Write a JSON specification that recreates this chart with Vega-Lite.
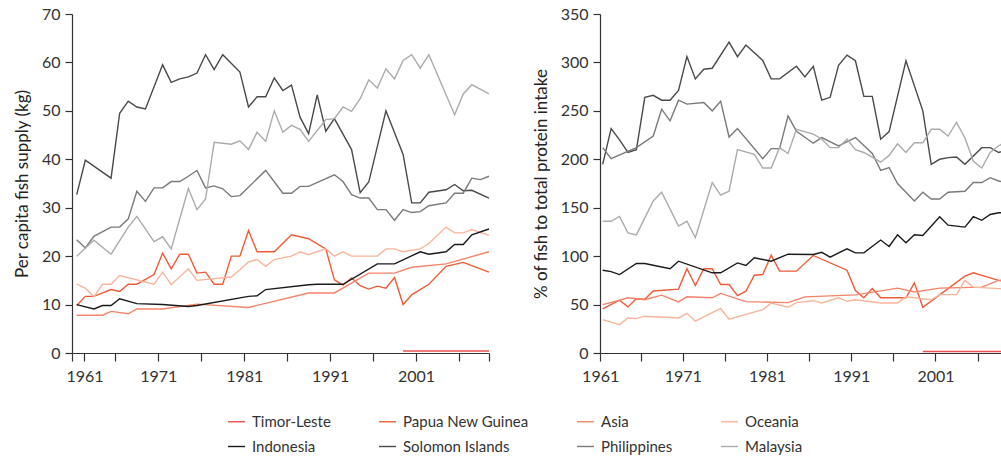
{
  "$schema": "https://vega.github.io/schema/vega-lite/v6.json",
  "background": "white",
  "padding": {"left": 13, "top": 6, "right": 0, "bottom": 0},
  "config": {
    "font": "Lato",
    "view": {"stroke": null},
    "axis": {"grid": false, "domainColor": "#333333", "tickColor": "#333333", "labelColor": "#333333", "titleColor": "#222222", "labelFontSize": 16, "titleFontSize": 17, "titleFontWeight": "normal", "tickSize": 7, "domainWidth": 1.2, "tickWidth": 1.2, "labelPadding": 5},
    "axisX": {"tickSize": 8, "labelPadding": 7},
    "line": {"strokeWidth": 1.4, "clip": true}
  },
  "datasets": {
    "supply": [
      {"country":"Timor-Leste","year":1999,"value":0.4},{"country":"Timor-Leste","year":2001,"value":0.4},{"country":"Timor-Leste","year":2003,"value":0.4},{"country":"Timor-Leste","year":2005,"value":0.4},{"country":"Timor-Leste","year":2007,"value":0.4},{"country":"Timor-Leste","year":2009,"value":0.4},
      {"country":"Papua New Guinea","year":1961,"value":9.8},{"country":"Papua New Guinea","year":1962,"value":11.7},{"country":"Papua New Guinea","year":1963,"value":11.7},{"country":"Papua New Guinea","year":1965,"value":13.1},{"country":"Papua New Guinea","year":1966,"value":12.7},{"country":"Papua New Guinea","year":1967,"value":14.2},{"country":"Papua New Guinea","year":1968,"value":14.2},{"country":"Papua New Guinea","year":1970,"value":16.2},{"country":"Papua New Guinea","year":1971,"value":20.6},{"country":"Papua New Guinea","year":1972,"value":17.4},{"country":"Papua New Guinea","year":1973,"value":20.4},{"country":"Papua New Guinea","year":1974,"value":20.4},{"country":"Papua New Guinea","year":1975,"value":16.5},{"country":"Papua New Guinea","year":1976,"value":16.7},{"country":"Papua New Guinea","year":1977,"value":14.2},{"country":"Papua New Guinea","year":1978,"value":14.2},{"country":"Papua New Guinea","year":1979,"value":20},{"country":"Papua New Guinea","year":1980,"value":20},{"country":"Papua New Guinea","year":1981,"value":25.3},{"country":"Papua New Guinea","year":1982,"value":20.9},{"country":"Papua New Guinea","year":1984,"value":20.9},{"country":"Papua New Guinea","year":1986,"value":24.4},{"country":"Papua New Guinea","year":1988,"value":23.6},{"country":"Papua New Guinea","year":1990,"value":21.5},{"country":"Papua New Guinea","year":1991,"value":15.1},{"country":"Papua New Guinea","year":1992,"value":14},{"country":"Papua New Guinea","year":1993,"value":15.5},{"country":"Papua New Guinea","year":1994,"value":13.9},{"country":"Papua New Guinea","year":1995,"value":13.2},{"country":"Papua New Guinea","year":1996,"value":13.8},{"country":"Papua New Guinea","year":1997,"value":13.4},{"country":"Papua New Guinea","year":1998,"value":15.6},{"country":"Papua New Guinea","year":1999,"value":10},{"country":"Papua New Guinea","year":2000,"value":12},{"country":"Papua New Guinea","year":2002,"value":14.2},{"country":"Papua New Guinea","year":2004,"value":17.9},{"country":"Papua New Guinea","year":2006,"value":18.7},{"country":"Papua New Guinea","year":2009,"value":16.7},
      {"country":"Asia","year":1961,"value":7.8},{"country":"Asia","year":1964,"value":7.8},{"country":"Asia","year":1965,"value":8.6},{"country":"Asia","year":1967,"value":8.1},{"country":"Asia","year":1968,"value":9.1},{"country":"Asia","year":1971,"value":9.1},{"country":"Asia","year":1975,"value":10.1},{"country":"Asia","year":1981,"value":9.4},{"country":"Asia","year":1988,"value":12.4},{"country":"Asia","year":1991,"value":12.4},{"country":"Asia","year":1995,"value":16.5},{"country":"Asia","year":1998,"value":16.5},{"country":"Asia","year":2000,"value":17.7},{"country":"Asia","year":2004,"value":18.4},{"country":"Asia","year":2009,"value":20.9},
      {"country":"Oceania","year":1961,"value":14.2},{"country":"Oceania","year":1962,"value":13.4},{"country":"Oceania","year":1963,"value":11.6},{"country":"Oceania","year":1964,"value":14.2},{"country":"Oceania","year":1965,"value":14.2},{"country":"Oceania","year":1966,"value":16},{"country":"Oceania","year":1970,"value":14.2},{"country":"Oceania","year":1971,"value":16.7},{"country":"Oceania","year":1972,"value":14.1},{"country":"Oceania","year":1974,"value":17.4},{"country":"Oceania","year":1975,"value":15},{"country":"Oceania","year":1979,"value":15.7},{"country":"Oceania","year":1980,"value":17.2},{"country":"Oceania","year":1981,"value":18.8},{"country":"Oceania","year":1982,"value":19.3},{"country":"Oceania","year":1983,"value":17.9},{"country":"Oceania","year":1984,"value":19.3},{"country":"Oceania","year":1986,"value":20},{"country":"Oceania","year":1987,"value":20.9},{"country":"Oceania","year":1988,"value":20.3},{"country":"Oceania","year":1990,"value":21.5},{"country":"Oceania","year":1991,"value":20},{"country":"Oceania","year":1992,"value":20.9},{"country":"Oceania","year":1993,"value":20},{"country":"Oceania","year":1996,"value":20},{"country":"Oceania","year":1997,"value":21.5},{"country":"Oceania","year":1998,"value":21.5},{"country":"Oceania","year":1999,"value":20.9},{"country":"Oceania","year":2001,"value":21.5},{"country":"Oceania","year":2002,"value":22.6},{"country":"Oceania","year":2004,"value":26},{"country":"Oceania","year":2005,"value":24.8},{"country":"Oceania","year":2006,"value":24.8},{"country":"Oceania","year":2007,"value":25.5},{"country":"Oceania","year":2009,"value":24.3},
      {"country":"Indonesia","year":1961,"value":10},{"country":"Indonesia","year":1963,"value":9.1},{"country":"Indonesia","year":1964,"value":9.8},{"country":"Indonesia","year":1965,"value":9.8},{"country":"Indonesia","year":1966,"value":11.2},{"country":"Indonesia","year":1968,"value":10.2},{"country":"Indonesia","year":1971,"value":10},{"country":"Indonesia","year":1974,"value":9.6},{"country":"Indonesia","year":1975,"value":9.8},{"country":"Indonesia","year":1981,"value":11.7},{"country":"Indonesia","year":1982,"value":11.8},{"country":"Indonesia","year":1983,"value":13.1},{"country":"Indonesia","year":1988,"value":14.1},{"country":"Indonesia","year":1989,"value":14.2},{"country":"Indonesia","year":1992,"value":14.2},{"country":"Indonesia","year":1996,"value":18.4},{"country":"Indonesia","year":1998,"value":18.4},{"country":"Indonesia","year":2001,"value":20.9},{"country":"Indonesia","year":2002,"value":20.4},{"country":"Indonesia","year":2004,"value":20.9},{"country":"Indonesia","year":2005,"value":22.4},{"country":"Indonesia","year":2006,"value":22.4},{"country":"Indonesia","year":2007,"value":24.4},{"country":"Indonesia","year":2009,"value":25.6},
      {"country":"Solomon Islands","year":1961,"value":32.7},{"country":"Solomon Islands","year":1962,"value":39.8},{"country":"Solomon Islands","year":1965,"value":36.1},{"country":"Solomon Islands","year":1966,"value":49.5},{"country":"Solomon Islands","year":1967,"value":52},{"country":"Solomon Islands","year":1968,"value":50.8},{"country":"Solomon Islands","year":1969,"value":50.4},{"country":"Solomon Islands","year":1971,"value":59.5},{"country":"Solomon Islands","year":1972,"value":55.9},{"country":"Solomon Islands","year":1973,"value":56.6},{"country":"Solomon Islands","year":1974,"value":57},{"country":"Solomon Islands","year":1975,"value":57.8},{"country":"Solomon Islands","year":1976,"value":61.6},{"country":"Solomon Islands","year":1977,"value":58.5},{"country":"Solomon Islands","year":1978,"value":61.6},{"country":"Solomon Islands","year":1980,"value":58},{"country":"Solomon Islands","year":1981,"value":50.8},{"country":"Solomon Islands","year":1982,"value":52.9},{"country":"Solomon Islands","year":1983,"value":52.9},{"country":"Solomon Islands","year":1984,"value":56.8},{"country":"Solomon Islands","year":1985,"value":54.2},{"country":"Solomon Islands","year":1986,"value":55.3},{"country":"Solomon Islands","year":1987,"value":48.7},{"country":"Solomon Islands","year":1988,"value":45.3},{"country":"Solomon Islands","year":1989,"value":53.3},{"country":"Solomon Islands","year":1990,"value":45.8},{"country":"Solomon Islands","year":1991,"value":48.4},{"country":"Solomon Islands","year":1993,"value":42},{"country":"Solomon Islands","year":1994,"value":33.1},{"country":"Solomon Islands","year":1995,"value":35.3},{"country":"Solomon Islands","year":1997,"value":50},{"country":"Solomon Islands","year":1999,"value":41},{"country":"Solomon Islands","year":2000,"value":31},{"country":"Solomon Islands","year":2001,"value":31},{"country":"Solomon Islands","year":2002,"value":33.2},{"country":"Solomon Islands","year":2004,"value":33.7},{"country":"Solomon Islands","year":2005,"value":34.8},{"country":"Solomon Islands","year":2006,"value":33.5},{"country":"Solomon Islands","year":2007,"value":33.6},{"country":"Solomon Islands","year":2009,"value":32},
      {"country":"Philippines","year":1961,"value":23.4},{"country":"Philippines","year":1962,"value":21.7},{"country":"Philippines","year":1963,"value":24.1},{"country":"Philippines","year":1965,"value":26},{"country":"Philippines","year":1966,"value":26},{"country":"Philippines","year":1967,"value":27.7},{"country":"Philippines","year":1968,"value":33.4},{"country":"Philippines","year":1969,"value":31.3},{"country":"Philippines","year":1970,"value":34.1},{"country":"Philippines","year":1971,"value":34.1},{"country":"Philippines","year":1972,"value":35.4},{"country":"Philippines","year":1973,"value":35.4},{"country":"Philippines","year":1974,"value":36.5},{"country":"Philippines","year":1975,"value":37.7},{"country":"Philippines","year":1976,"value":34.1},{"country":"Philippines","year":1977,"value":34.5},{"country":"Philippines","year":1978,"value":33.9},{"country":"Philippines","year":1979,"value":32.3},{"country":"Philippines","year":1980,"value":32.5},{"country":"Philippines","year":1983,"value":37.7},{"country":"Philippines","year":1985,"value":33},{"country":"Philippines","year":1986,"value":33},{"country":"Philippines","year":1987,"value":34.4},{"country":"Philippines","year":1988,"value":34.4},{"country":"Philippines","year":1991,"value":36.8},{"country":"Philippines","year":1992,"value":35.4},{"country":"Philippines","year":1993,"value":32.7},{"country":"Philippines","year":1994,"value":32},{"country":"Philippines","year":1995,"value":32},{"country":"Philippines","year":1996,"value":29.6},{"country":"Philippines","year":1997,"value":29.6},{"country":"Philippines","year":1998,"value":27.4},{"country":"Philippines","year":1999,"value":29.6},{"country":"Philippines","year":2000,"value":29},{"country":"Philippines","year":2001,"value":29.2},{"country":"Philippines","year":2002,"value":30.4},{"country":"Philippines","year":2004,"value":31},{"country":"Philippines","year":2005,"value":33},{"country":"Philippines","year":2006,"value":33},{"country":"Philippines","year":2007,"value":36.1},{"country":"Philippines","year":2008,"value":35.8},{"country":"Philippines","year":2009,"value":36.5},
      {"country":"Malaysia","year":1961,"value":20},{"country":"Malaysia","year":1963,"value":23.3},{"country":"Malaysia","year":1965,"value":20.4},{"country":"Malaysia","year":1967,"value":26},{"country":"Malaysia","year":1968,"value":28.2},{"country":"Malaysia","year":1970,"value":23},{"country":"Malaysia","year":1971,"value":24},{"country":"Malaysia","year":1972,"value":21.5},{"country":"Malaysia","year":1974,"value":34},{"country":"Malaysia","year":1975,"value":29.6},{"country":"Malaysia","year":1976,"value":31.8},{"country":"Malaysia","year":1977,"value":43.5},{"country":"Malaysia","year":1979,"value":43.1},{"country":"Malaysia","year":1980,"value":43.8},{"country":"Malaysia","year":1981,"value":42},{"country":"Malaysia","year":1982,"value":45.6},{"country":"Malaysia","year":1983,"value":43.7},{"country":"Malaysia","year":1984,"value":50},{"country":"Malaysia","year":1985,"value":45.6},{"country":"Malaysia","year":1986,"value":47},{"country":"Malaysia","year":1987,"value":46.2},{"country":"Malaysia","year":1988,"value":43.7},{"country":"Malaysia","year":1990,"value":48.2},{"country":"Malaysia","year":1991,"value":48.4},{"country":"Malaysia","year":1992,"value":50.8},{"country":"Malaysia","year":1993,"value":49.9},{"country":"Malaysia","year":1994,"value":52.5},{"country":"Malaysia","year":1995,"value":56.4},{"country":"Malaysia","year":1996,"value":54.7},{"country":"Malaysia","year":1997,"value":58.7},{"country":"Malaysia","year":1998,"value":56.6},{"country":"Malaysia","year":1999,"value":60.4},{"country":"Malaysia","year":2000,"value":61.6},{"country":"Malaysia","year":2001,"value":58.8},{"country":"Malaysia","year":2002,"value":61.6},{"country":"Malaysia","year":2005,"value":49.2},{"country":"Malaysia","year":2006,"value":53.5},{"country":"Malaysia","year":2007,"value":55.4},{"country":"Malaysia","year":2009,"value":53.5}
    ],
    "pct": [
      {"country":"Timor-Leste","year":1999,"value":1.5},{"country":"Timor-Leste","year":2001,"value":1.5},{"country":"Timor-Leste","year":2003,"value":1.5},{"country":"Timor-Leste","year":2005,"value":1.5},{"country":"Timor-Leste","year":2007,"value":1.5},{"country":"Timor-Leste","year":2009,"value":1.5},
      {"country":"Papua New Guinea","year":1961,"value":45.5},{"country":"Papua New Guinea","year":1963,"value":54.5},{"country":"Papua New Guinea","year":1964,"value":47.6},{"country":"Papua New Guinea","year":1965,"value":56},{"country":"Papua New Guinea","year":1966,"value":55.5},{"country":"Papua New Guinea","year":1967,"value":64},{"country":"Papua New Guinea","year":1970,"value":66},{"country":"Papua New Guinea","year":1971,"value":87},{"country":"Papua New Guinea","year":1972,"value":69.7},{"country":"Papua New Guinea","year":1973,"value":87},{"country":"Papua New Guinea","year":1974,"value":87},{"country":"Papua New Guinea","year":1975,"value":70.7},{"country":"Papua New Guinea","year":1976,"value":70.7},{"country":"Papua New Guinea","year":1977,"value":59.3},{"country":"Papua New Guinea","year":1978,"value":63.8},{"country":"Papua New Guinea","year":1979,"value":80.3},{"country":"Papua New Guinea","year":1980,"value":81},{"country":"Papua New Guinea","year":1981,"value":101},{"country":"Papua New Guinea","year":1982,"value":84.5},{"country":"Papua New Guinea","year":1984,"value":84.5},{"country":"Papua New Guinea","year":1986,"value":100.7},{"country":"Papua New Guinea","year":1990,"value":85.5},{"country":"Papua New Guinea","year":1991,"value":64.5},{"country":"Papua New Guinea","year":1992,"value":57},{"country":"Papua New Guinea","year":1993,"value":66.6},{"country":"Papua New Guinea","year":1994,"value":57},{"country":"Papua New Guinea","year":1997,"value":57},{"country":"Papua New Guinea","year":1998,"value":72.4},{"country":"Papua New Guinea","year":1999,"value":47.2},{"country":"Papua New Guinea","year":2004,"value":79.3},{"country":"Papua New Guinea","year":2005,"value":82.8},{"country":"Papua New Guinea","year":2007,"value":77.6},{"country":"Papua New Guinea","year":2008,"value":75},{"country":"Papua New Guinea","year":2009,"value":73},
      {"country":"Asia","year":1961,"value":50},{"country":"Asia","year":1963,"value":54.5},{"country":"Asia","year":1964,"value":57},{"country":"Asia","year":1966,"value":55},{"country":"Asia","year":1968,"value":59.7},{"country":"Asia","year":1970,"value":52.8},{"country":"Asia","year":1971,"value":58},{"country":"Asia","year":1974,"value":57},{"country":"Asia","year":1975,"value":61.5},{"country":"Asia","year":1978,"value":53},{"country":"Asia","year":1983,"value":52},{"country":"Asia","year":1985,"value":58},{"country":"Asia","year":1991,"value":60},{"country":"Asia","year":1996,"value":67},{"country":"Asia","year":1998,"value":63},{"country":"Asia","year":2001,"value":67},{"country":"Asia","year":2006,"value":68},{"country":"Asia","year":2008,"value":75},{"country":"Asia","year":2009,"value":76},
      {"country":"Oceania","year":1961,"value":34.5},{"country":"Oceania","year":1963,"value":29.3},{"country":"Oceania","year":1964,"value":36.2},{"country":"Oceania","year":1965,"value":35.5},{"country":"Oceania","year":1966,"value":38},{"country":"Oceania","year":1970,"value":36.2},{"country":"Oceania","year":1971,"value":41},{"country":"Oceania","year":1972,"value":32.8},{"country":"Oceania","year":1975,"value":46},{"country":"Oceania","year":1976,"value":35},{"country":"Oceania","year":1980,"value":44.8},{"country":"Oceania","year":1981,"value":51.5},{"country":"Oceania","year":1983,"value":47.2},{"country":"Oceania","year":1984,"value":52},{"country":"Oceania","year":1986,"value":54},{"country":"Oceania","year":1987,"value":51.7},{"country":"Oceania","year":1989,"value":57},{"country":"Oceania","year":1990,"value":53.4},{"country":"Oceania","year":1991,"value":55},{"country":"Oceania","year":1994,"value":51.7},{"country":"Oceania","year":1996,"value":51.7},{"country":"Oceania","year":1997,"value":58},{"country":"Oceania","year":2000,"value":55},{"country":"Oceania","year":2001,"value":60.3},{"country":"Oceania","year":2003,"value":60.3},{"country":"Oceania","year":2004,"value":75},{"country":"Oceania","year":2005,"value":68},{"country":"Oceania","year":2008,"value":66.5},{"country":"Oceania","year":2009,"value":66},
      {"country":"Indonesia","year":1961,"value":85.5},{"country":"Indonesia","year":1962,"value":84},{"country":"Indonesia","year":1963,"value":81},{"country":"Indonesia","year":1965,"value":92.4},{"country":"Indonesia","year":1966,"value":92.4},{"country":"Indonesia","year":1969,"value":87},{"country":"Indonesia","year":1970,"value":94.8},{"country":"Indonesia","year":1974,"value":82.8},{"country":"Indonesia","year":1975,"value":82.8},{"country":"Indonesia","year":1977,"value":93},{"country":"Indonesia","year":1978,"value":90.3},{"country":"Indonesia","year":1979,"value":98.3},{"country":"Indonesia","year":1981,"value":94.8},{"country":"Indonesia","year":1983,"value":102},{"country":"Indonesia","year":1986,"value":101.7},{"country":"Indonesia","year":1987,"value":104},{"country":"Indonesia","year":1988,"value":99},{"country":"Indonesia","year":1990,"value":107.6},{"country":"Indonesia","year":1991,"value":103.4},{"country":"Indonesia","year":1992,"value":103.4},{"country":"Indonesia","year":1994,"value":116.6},{"country":"Indonesia","year":1995,"value":110},{"country":"Indonesia","year":1996,"value":122},{"country":"Indonesia","year":1997,"value":113.8},{"country":"Indonesia","year":1998,"value":122},{"country":"Indonesia","year":1999,"value":121.4},{"country":"Indonesia","year":2001,"value":140.7},{"country":"Indonesia","year":2002,"value":132},{"country":"Indonesia","year":2004,"value":130},{"country":"Indonesia","year":2005,"value":140.7},{"country":"Indonesia","year":2006,"value":137},{"country":"Indonesia","year":2007,"value":143},{"country":"Indonesia","year":2008,"value":144.8},{"country":"Indonesia","year":2009,"value":145},
      {"country":"Solomon Islands","year":1961,"value":194.8},{"country":"Solomon Islands","year":1962,"value":231.7},{"country":"Solomon Islands","year":1963,"value":220},{"country":"Solomon Islands","year":1964,"value":207},{"country":"Solomon Islands","year":1965,"value":210},{"country":"Solomon Islands","year":1966,"value":264},{"country":"Solomon Islands","year":1967,"value":266},{"country":"Solomon Islands","year":1968,"value":261},{"country":"Solomon Islands","year":1969,"value":261},{"country":"Solomon Islands","year":1970,"value":271},{"country":"Solomon Islands","year":1971,"value":306},{"country":"Solomon Islands","year":1972,"value":283},{"country":"Solomon Islands","year":1973,"value":293},{"country":"Solomon Islands","year":1974,"value":294},{"country":"Solomon Islands","year":1976,"value":321},{"country":"Solomon Islands","year":1977,"value":306},{"country":"Solomon Islands","year":1978,"value":318},{"country":"Solomon Islands","year":1980,"value":302},{"country":"Solomon Islands","year":1981,"value":283},{"country":"Solomon Islands","year":1982,"value":283},{"country":"Solomon Islands","year":1984,"value":296},{"country":"Solomon Islands","year":1985,"value":285},{"country":"Solomon Islands","year":1986,"value":296},{"country":"Solomon Islands","year":1987,"value":261},{"country":"Solomon Islands","year":1988,"value":264},{"country":"Solomon Islands","year":1989,"value":297},{"country":"Solomon Islands","year":1990,"value":307.6},{"country":"Solomon Islands","year":1991,"value":301.7},{"country":"Solomon Islands","year":1992,"value":265},{"country":"Solomon Islands","year":1993,"value":265},{"country":"Solomon Islands","year":1994,"value":220.7},{"country":"Solomon Islands","year":1995,"value":228.6},{"country":"Solomon Islands","year":1997,"value":301.7},{"country":"Solomon Islands","year":1999,"value":250},{"country":"Solomon Islands","year":2000,"value":194.8},{"country":"Solomon Islands","year":2001,"value":200},{"country":"Solomon Islands","year":2002,"value":201.7},{"country":"Solomon Islands","year":2003,"value":202.4},{"country":"Solomon Islands","year":2004,"value":194.8},{"country":"Solomon Islands","year":2006,"value":212},{"country":"Solomon Islands","year":2007,"value":212},{"country":"Solomon Islands","year":2008,"value":207},{"country":"Solomon Islands","year":2009,"value":210},
      {"country":"Philippines","year":1961,"value":212},{"country":"Philippines","year":1962,"value":200.7},{"country":"Philippines","year":1965,"value":212},{"country":"Philippines","year":1967,"value":224},{"country":"Philippines","year":1968,"value":251.7},{"country":"Philippines","year":1969,"value":239.7},{"country":"Philippines","year":1970,"value":261},{"country":"Philippines","year":1971,"value":257},{"country":"Philippines","year":1973,"value":258.6},{"country":"Philippines","year":1974,"value":250},{"country":"Philippines","year":1975,"value":260},{"country":"Philippines","year":1976,"value":223},{"country":"Philippines","year":1977,"value":231.7},{"country":"Philippines","year":1980,"value":200.7},{"country":"Philippines","year":1981,"value":211},{"country":"Philippines","year":1982,"value":211},{"country":"Philippines","year":1983,"value":244.8},{"country":"Philippines","year":1984,"value":229},{"country":"Philippines","year":1986,"value":216.6},{"country":"Philippines","year":1987,"value":222.4},{"country":"Philippines","year":1989,"value":213.8},{"country":"Philippines","year":1991,"value":222.4},{"country":"Philippines","year":1993,"value":206},{"country":"Philippines","year":1994,"value":188.6},{"country":"Philippines","year":1995,"value":191.4},{"country":"Philippines","year":1996,"value":175},{"country":"Philippines","year":1998,"value":157},{"country":"Philippines","year":1999,"value":166},{"country":"Philippines","year":2000,"value":159},{"country":"Philippines","year":2001,"value":159},{"country":"Philippines","year":2002,"value":166},{"country":"Philippines","year":2004,"value":167},{"country":"Philippines","year":2005,"value":176},{"country":"Philippines","year":2006,"value":176},{"country":"Philippines","year":2007,"value":181},{"country":"Philippines","year":2008,"value":177.6},{"country":"Philippines","year":2009,"value":176},
      {"country":"Malaysia","year":1961,"value":136},{"country":"Malaysia","year":1962,"value":136},{"country":"Malaysia","year":1963,"value":141},{"country":"Malaysia","year":1964,"value":124},{"country":"Malaysia","year":1965,"value":122},{"country":"Malaysia","year":1967,"value":157},{"country":"Malaysia","year":1968,"value":166},{"country":"Malaysia","year":1970,"value":131},{"country":"Malaysia","year":1971,"value":136},{"country":"Malaysia","year":1972,"value":119},{"country":"Malaysia","year":1974,"value":176},{"country":"Malaysia","year":1975,"value":163},{"country":"Malaysia","year":1976,"value":167},{"country":"Malaysia","year":1977,"value":210},{"country":"Malaysia","year":1979,"value":205},{"country":"Malaysia","year":1980,"value":191},{"country":"Malaysia","year":1981,"value":191},{"country":"Malaysia","year":1982,"value":212},{"country":"Malaysia","year":1983,"value":206},{"country":"Malaysia","year":1984,"value":231},{"country":"Malaysia","year":1986,"value":226},{"country":"Malaysia","year":1987,"value":221},{"country":"Malaysia","year":1988,"value":212},{"country":"Malaysia","year":1989,"value":212},{"country":"Malaysia","year":1990,"value":221},{"country":"Malaysia","year":1991,"value":210},{"country":"Malaysia","year":1992,"value":207},{"country":"Malaysia","year":1994,"value":197},{"country":"Malaysia","year":1995,"value":204},{"country":"Malaysia","year":1996,"value":216},{"country":"Malaysia","year":1997,"value":207},{"country":"Malaysia","year":1998,"value":217},{"country":"Malaysia","year":1999,"value":217},{"country":"Malaysia","year":2000,"value":231},{"country":"Malaysia","year":2001,"value":231},{"country":"Malaysia","year":2002,"value":224},{"country":"Malaysia","year":2003,"value":238},{"country":"Malaysia","year":2004,"value":222},{"country":"Malaysia","year":2005,"value":198},{"country":"Malaysia","year":2006,"value":191},{"country":"Malaysia","year":2007,"value":207},{"country":"Malaysia","year":2008,"value":214},{"country":"Malaysia","year":2009,"value":218}
    ]
  },
  "spacing": 40,
  "resolve": {"scale": {"color": "shared"}},
  "hconcat": [
    {
      "width": 417, "height": 339,
      "data": {"name": "supply"},
      "mark": {"type": "line"},
      "encoding": {
        "x": {"field": "year", "type": "quantitative", "scale": {"domain": [1960.45, 2009], "nice": false, "zero": false},
          "axis": {"title": null, "values": [1960.5, 1961.9, 1965.5, 1970.5, 1975.5, 1980.5, 1985.5, 1990.5, 1995.5, 2000.5, 2005.5, 2009], "labelOverlap": false, "labelFlush": false,
            "labelExpr": "datum.value == 1961.9 ? '1961' : (datum.value > 1962 && floor(datum.value) % 10 == 0 ? format(floor(datum.value) + 1, 'd') : '')"}},
        "y": {"field": "value", "type": "quantitative", "scale": {"domain": [0, 70], "nice": false},
          "axis": {"title": "Per capita fish supply (kg)", "values": [0, 10, 20, 30, 40, 50, 60, 70], "titlePadding": 10}},
        "color": {"field": "country", "type": "nominal",
          "scale": {"domain": ["Timor-Leste", "Papua New Guinea", "Asia", "Oceania", "Indonesia", "Solomon Islands", "Philippines", "Malaysia"],
            "range": ["#e9504f", "#f15a36", "#f5846a", "#f9b59c", "#1a1a1a", "#4a4a4a", "#7a7a7a", "#ababab"]},
          "legend": {"title": null, "orient": "none", "legendX": 155, "legendY": 398, "columns": 4, "direction": "horizontal", "symbolType": "stroke", "symbolSize": 289, "symbolStrokeWidth": 2, "labelFontSize": 15, "labelColor": "#333333", "columnPadding": 45, "rowPadding": 7, "labelOffset": 6}}
      }
    },
    {
      "width": 402, "height": 339,
      "data": {"name": "pct"},
      "mark": {"type": "line"},
      "encoding": {
        "x": {"field": "year", "type": "quantitative", "scale": {"domain": [1960.68, 2008.4], "nice": false, "zero": false},
          "axis": {"title": null, "values": [1960.7, 1965.5, 1970.5, 1975.5, 1980.5, 1985.5, 1990.5, 1995.5, 2000.5, 2005.5], "labelOverlap": false, "labelFlush": false,
            "labelExpr": "datum.value < 1961 ? '1961' : (floor(datum.value) % 10 == 0 ? format(floor(datum.value) + 1, 'd') : '')"}},
        "y": {"field": "value", "type": "quantitative", "scale": {"domain": [0, 350], "nice": false},
          "axis": {"title": "% of fish to total protein intake", "values": [0, 50, 100, 150, 200, 250, 300, 350], "titlePadding": 10}},
        "color": {"field": "country", "type": "nominal"}
      }
    }
  ]
}
